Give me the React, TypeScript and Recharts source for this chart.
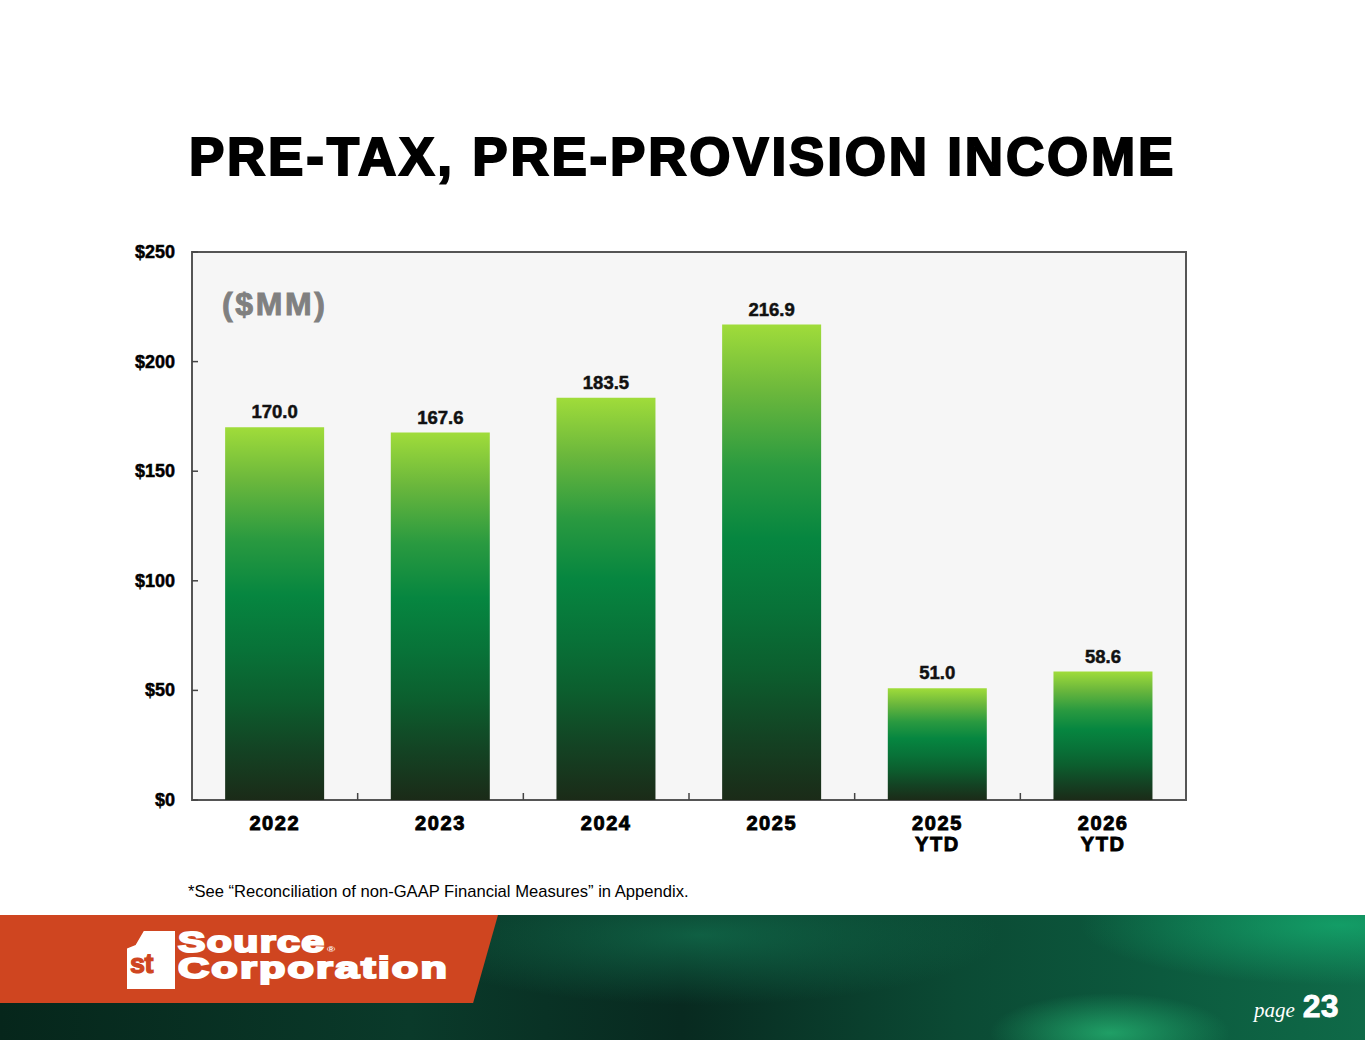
import React from 'react';
import {
  BarChart,
  Bar,
  XAxis,
  YAxis,
  CartesianGrid,
  LabelList,
  ReferenceArea,
  ReferenceLine,
} from 'recharts';

// chart values
const categories = ['2022', '2023', '2024', '2025', '2025\nYTD', '2026\nYTD'];
const income = [170.0, 167.6, 183.5, 216.9, 51.0, 58.6];
const yTicks = [0, 50, 100, 150, 200, 250];
const separatorTicks = [1, 2, 3, 4, 5];

const data = categories.map((name, i) => ({ name, value: income[i] }));

const FONT = '"Liberation Sans", Arial, sans-serif';

const CategoryTick = (props: any) => {
  const { x, y, payload } = props;
  const lines = String(payload.value).split('\n');
  return (
    <text
      x={x}
      y={y}
      textAnchor="middle"
      fontFamily={FONT}
      fontWeight="bold"
      fontSize={20}
      letterSpacing={1.6}
      fill="#000"
      stroke="#000"
      strokeWidth={0.9}
    >
      {lines.map((l, i) => (
        <tspan key={i} x={x} dy={i === 0 ? 22 : 21}>
          {l}
        </tspan>
      ))}
    </text>
  );
};

// value label plus a short tick line pointing into the plot
const ValueTick = (props: any) => {
  const { x, y, payload } = props;
  return (
    <g>
      <line x1={x + 17} x2={x + 23} y1={y} y2={y} stroke="#444" strokeWidth={1.5} />
      <text
        x={x}
        y={y}
        dy={6}
        textAnchor="end"
        fontFamily={FONT}
        fontWeight="bold"
        fontSize={18}
        fill="#000"
        stroke="#000"
        strokeWidth={0.5}
      >
        {`$${payload.value}`}
      </text>
    </g>
  );
};

const App: React.FC = () => {
  return (
    <div
      style={{
        position: 'absolute',
        left: 0,
        top: 0,
        width: 1365,
        height: 1055,
        background: '#fff',
        overflow: 'hidden',
        fontFamily: FONT,
      }}
    >
      <div
        style={{
          position: 'absolute',
          top: 127,
          left: 0,
          width: 1365,
          textAlign: 'center',
          fontSize: 53,
          fontWeight: 'bold',
          letterSpacing: 2.8,
          lineHeight: '60px',
          color: '#000',
          WebkitTextStroke: '2px #000',
        }}
      >
        PRE-TAX, PRE-PROVISION INCOME
      </div>

      <div style={{ position: 'absolute', left: 0, top: 0 }}>
        <BarChart
          width={1365}
          height={880}
          data={data}
          margin={{ top: 252, right: 179, bottom: 0, left: 0 }}
          barCategoryGap="20%"
        >
          <defs>
            <linearGradient id="barFill" x1="0" y1="0" x2="0" y2="1">
              <stop offset="0%" stopColor="#a0dc3a" />
              <stop offset="14%" stopColor="#6cb83c" />
              <stop offset="30%" stopColor="#2a9a40" />
              <stop offset="45%" stopColor="#068640" />
              <stop offset="60%" stopColor="#087238" />
              <stop offset="73%" stopColor="#0c5e2e" />
              <stop offset="86%" stopColor="#134424" />
              <stop offset="100%" stopColor="#1b2b18" />
            </linearGradient>
          </defs>
          <CartesianGrid horizontal={false} vertical={false} fill="#f6f6f6" />
          <XAxis
            dataKey="name"
            height={80}
            axisLine={false}
            tickLine={false}
            tick={<CategoryTick />}
            interval={0}
          />
          <XAxis
            xAxisId="sep"
            type="number"
            dataKey="value"
            domain={[0, 6]}
            allowDataOverflow
            hide
          />
          <YAxis
            width={192}
            domain={[0, 250]}
            ticks={yTicks}
            interval={0}
            tickSize={0}
            tickMargin={17}
            axisLine={false}
            tickLine={false}
            tick={<ValueTick />}
          />
          <Bar dataKey="value" fill="url(#barFill)" isAnimationActive={false}>
            <LabelList
              dataKey="value"
              position="top"
              offset={9}
              formatter={(v: any) => Number(v).toFixed(1)}
              style={{
                fill: '#111',
                fontSize: 18.5,
                fontWeight: 'bold',
                fontFamily: FONT,
                stroke: '#111',
                strokeWidth: 0.5,
              }}
            />
          </Bar>
          {separatorTicks.map((t) => (
            <ReferenceLine
              key={t}
              xAxisId="sep"
              segment={[
                { x: t, y: 0 },
                { x: t, y: 3.2 },
              ]}
              stroke="#444"
              strokeWidth={1.5}
            />
          ))}
          <ReferenceArea
            xAxisId="sep"
            x1={0}
            x2={6}
            y1={0}
            y2={250}
            fill="none"
            fillOpacity={0}
            stroke="#555"
            strokeWidth={2}
            ifOverflow="visible"
          />
        </BarChart>
      </div>

      <div
        style={{
          position: 'absolute',
          left: 222,
          top: 286,
          fontSize: 32,
          fontWeight: 'bold',
          letterSpacing: 2.6,
          color: '#808080',
          WebkitTextStroke: '0.9px #808080',
        }}
      >
        ($MM)
      </div>

      <div
        style={{
          position: 'absolute',
          left: 188,
          top: 882,
          fontSize: 16.6,
          color: '#000',
          whiteSpace: 'nowrap',
        }}
      >
        *See “Reconciliation of non-GAAP Financial Measures” in Appendix.
      </div>

      {/* footer band */}
      <div
        style={{
          position: 'absolute',
          left: 0,
          top: 915,
          width: 1365,
          height: 125,
          background:
            'radial-gradient(ellipse 120px 40px at 1110px 118px, rgba(40,190,120,0.7), rgba(0,0,0,0) 100%),' +
            'radial-gradient(ellipse 260px 60px at 1340px 10px, rgba(20,170,110,0.8), rgba(0,0,0,0) 100%),' +
            'radial-gradient(ellipse 300px 70px at 700px 20px, rgba(20,130,90,0.6), rgba(0,0,0,0) 100%),' +
            'linear-gradient(90deg, #06261b 0%, #0a3a2a 30%, #082a20 50%, #0b4a34 70%, #0c5a3e 85%, #0f6a48 100%)',
        }}
      />
      <div
        style={{
          position: 'absolute',
          left: 0,
          top: 915,
          width: 498,
          height: 88,
          background: '#cf4520',
          clipPath: 'polygon(0 0, 100% 0, 95% 100%, 0 100%)',
        }}
      />
      {/* logo: white "1" shape with "st" knocked out */}
      <div
        style={{
          position: 'absolute',
          left: 127,
          top: 931,
          width: 48,
          height: 58,
          background: '#fff',
          clipPath: 'polygon(35% 0, 100% 0, 100% 100%, 0 100%, 0 30%, 18% 24%)',
        }}
      />
      <div
        style={{
          position: 'absolute',
          left: 130,
          top: 952,
          fontSize: 27,
          lineHeight: '24px',
          fontWeight: 'bold',
          color: '#cf4520',
          WebkitTextStroke: '1.2px #cf4520',
          letterSpacing: -0.5,
        }}
      >
        st
      </div>
      <div
        style={{
          position: 'absolute',
          left: 178,
          top: 931,
          fontSize: 30,
          lineHeight: '21px',
          fontWeight: 'bold',
          color: '#fff',
          WebkitTextStroke: '2px #fff',
          letterSpacing: 1,
          transform: 'scaleX(1.37)',
          transformOrigin: 'left top',
          whiteSpace: 'nowrap',
        }}
      >
        Source<span style={{ fontSize: 8, WebkitTextStroke: '0px', marginLeft: 1 }}>®</span>
      </div>
      <div
        style={{
          position: 'absolute',
          left: 178,
          top: 957,
          fontSize: 30,
          lineHeight: '21px',
          fontWeight: 'bold',
          color: '#fff',
          WebkitTextStroke: '2px #fff',
          letterSpacing: 1.5,
          transform: 'scaleX(1.44)',
          transformOrigin: 'left top',
          whiteSpace: 'nowrap',
        }}
      >
        Corporation
      </div>

      <div
        style={{
          position: 'absolute',
          left: 1254,
          top: 988,
          color: '#fff',
          whiteSpace: 'nowrap',
        }}
      >
        <span style={{ fontFamily: '"Liberation Serif", serif', fontStyle: 'italic', fontSize: 21 }}>page</span>
        <span style={{ fontWeight: 'bold', fontSize: 32, marginLeft: 8, WebkitTextStroke: '0.8px #fff' }}>23</span>
      </div>
    </div>
  );
};

export default App;
